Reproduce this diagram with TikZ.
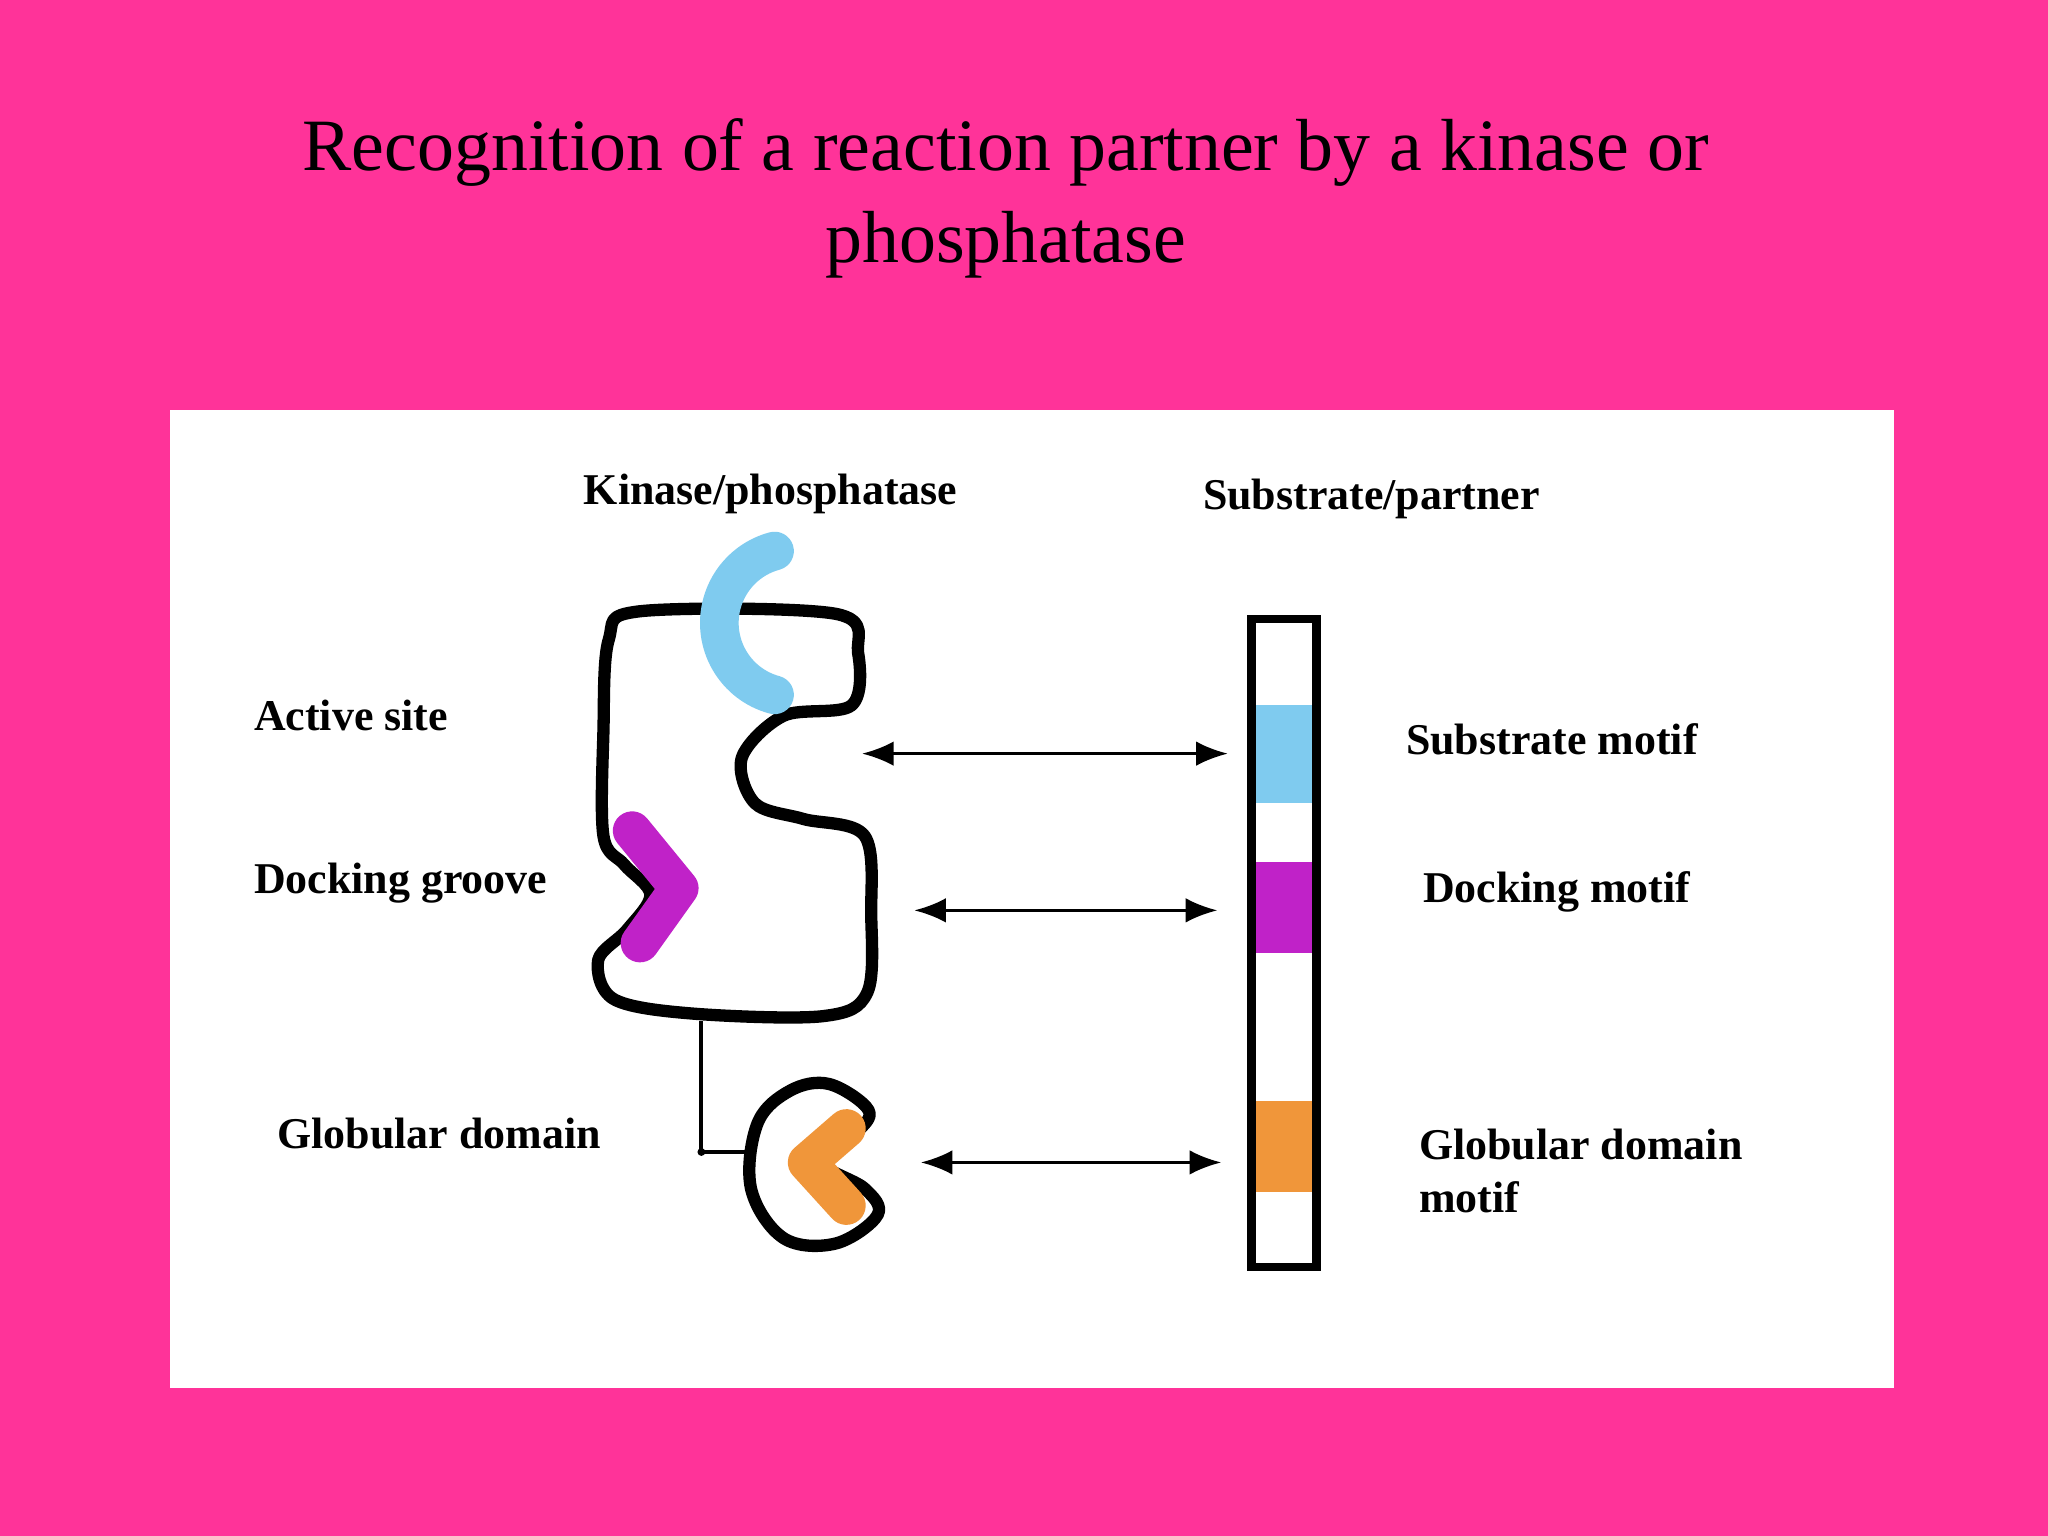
\documentclass[tikz,border=0pt]{standalone}
\usepackage{fontspec}
\setmainfont{Liberation Serif}
\usetikzlibrary{arrows.meta}
\definecolor{slidepink}{HTML}{FF3399}
\definecolor{motifcyan}{HTML}{7FCBEF}
\definecolor{motifmag}{HTML}{C022C8}
\definecolor{motiforange}{HTML}{F0963A}
\tikzset{
  lbl/.style={font=\bfseries\fontsize{12.5}{15}\selectfont, anchor=west, align=left},
  blob/.style={line width=3.5pt, line join=round},
  motif/.style={line width=11pt, line cap=round, line join=round},
  bind/.style={{Latex[length=9pt,width=7pt]}-{Latex[length=9pt,width=7pt]}, line width=0.9pt}
}
\begin{document}
\begin{tikzpicture}[x=0.013061cm,y=-0.013061cm]
\fill[slidepink] (0,0) rectangle (1568,1176);
\fill[white] (130,314) rectangle (1450,1063);
% title
\node[font=\fontsize{21}{26}\selectfont, align=center] (title) at (770,152)
  {Recognition of a reaction partner by a kinase or\\phosphatase};
% headings
\node[lbl, anchor=center] (kin) at (590,378) {Kinase/phosphatase};
\node[lbl, anchor=center] (sub) at (1050,382) {Substrate/partner};
% kinase body
\draw[blob] plot[smooth cycle, tension=0.55] coordinates {
  (490,468) (640,470) (657,500) (652,540) (600,548) (568,580) (578,615)
  (615,627) (662,640) (667,700) (664,760) (630,778) (530,776) (470,765)
  (458,735) (480,712) (498,685) (478,662) (462,640) (462,560) (466,490)};
\draw[motif, motifcyan] (593,532) arc (105:255:57);
\draw[motif, motifmag] (484,636) -- (520,680) -- (490,722);
% globular domain
\draw[blob] plot[smooth cycle, tension=0.6] coordinates {
  (635,830) (665,850) (655,868) (630,890) (662,910) (672,930) (640,952)
  (600,948) (575,910) (580,860) (605,835)};
\draw[motif, motiforange] (648,864) -- (618,890) -- (648,923);
% linker
\coordinate (lk1) at (537,782);
\coordinate (lk2) at (537,882);
\coordinate (lk3) at (578,882);
\draw[line width=1.2pt] (lk1) -- (lk2) -- (lk3);
\fill (lk2) circle (3);
% substrate bar
\fill[motifcyan] (960,540) rectangle (1006,615);
\fill[motifmag] (960,660) rectangle (1006,730);
\fill[motiforange] (960,843) rectangle (1006,913);
\draw[line width=2.5pt] (958,474) rectangle (1008,970);
% binding arrows
\coordinate (a1) at (660,577); \coordinate (b1) at (940,577);
\coordinate (a2) at (700,697); \coordinate (b2) at (932,697);
\coordinate (a3) at (705,890); \coordinate (b3) at (935,890);
\draw[bind] (a1) -- (b1);
\draw[bind] (a2) -- (b2);
\draw[bind] (a3) -- (b3);
% labels
\node[lbl] (act) at (185,548) {Active site};
\node[lbl] (dgr) at (185,676) {Docking groove};
\node[lbl] (glb) at (203,868) {Globular domain};
\node[lbl] (smo) at (1067,566) {Substrate motif};
\node[lbl] (dmo) at (1080,683) {Docking motif};
\node[lbl, anchor=north west] (gmo) at (1077,855) {Globular domain\\motif};
\end{tikzpicture}
\end{document}
